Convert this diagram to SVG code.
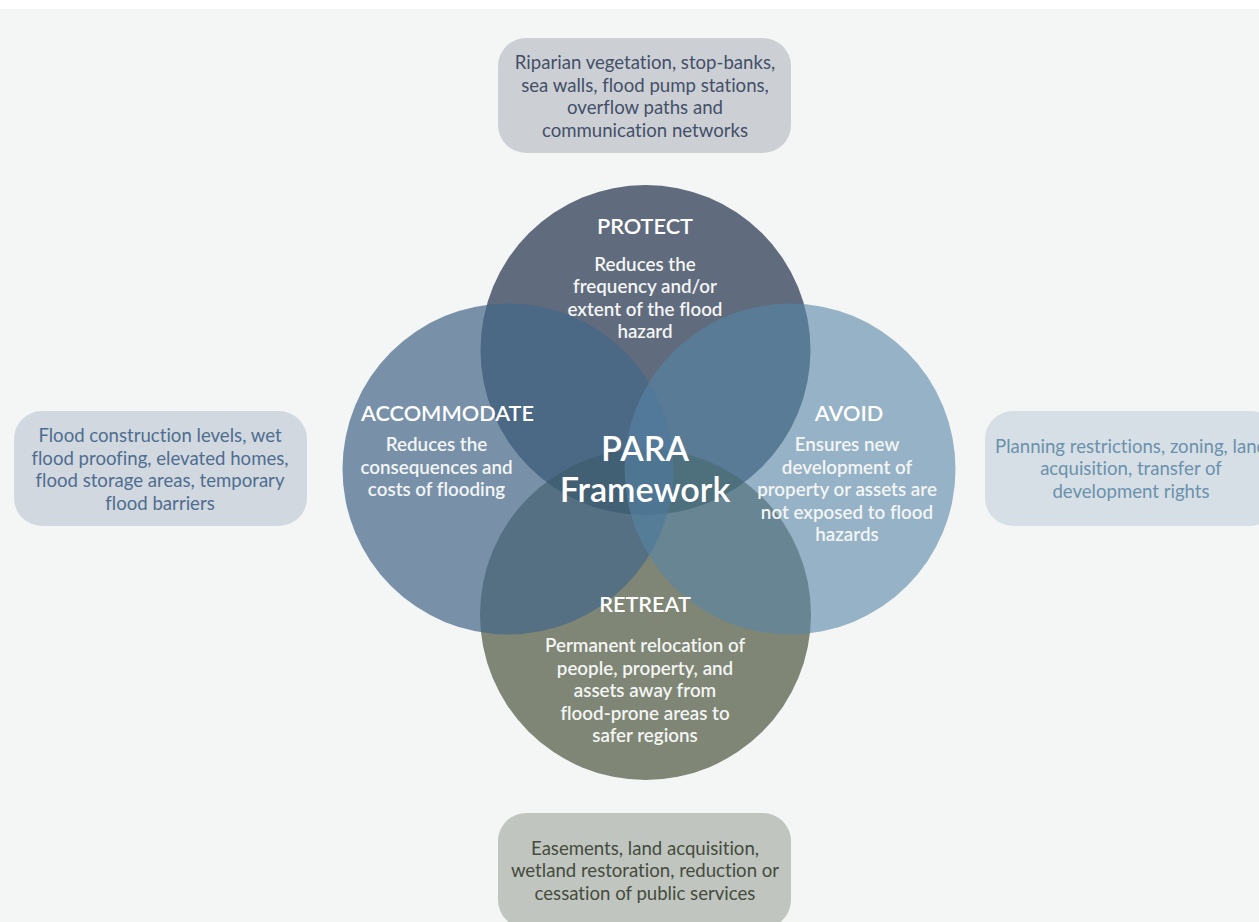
<svg xmlns="http://www.w3.org/2000/svg" width="1259" height="922" viewBox="0 0 1259 922">
<defs><clipPath id="in-protect"><circle cx="645.5" cy="350" r="165"/></clipPath></defs>
<style>
text{font-family:"Lato","Liberation Sans",sans-serif;text-anchor:middle;font-variant-ligatures:none;transform:translateY(.7px)}
.b{font-size:18.6px}
.p{fill:#444f68}.a{fill:#4f6d90}.v{fill:#6b91ad}.r{fill:#444c3e}
.t{font-size:21.7px;font-weight:600;fill:#fff}
.d{font-size:18.8px;font-weight:600;fill:#f3f5f4}
.c{font-size:34.2px;font-weight:600;fill:#fff}
</style>
<rect width="1259" height="922" fill="#fff"/>
<rect y="9" width="1259" height="913" fill="#f4f6f5"/>
<g id="box-protect"><rect x="498" y="38" width="293" height="115" rx="28" fill="#ccd0d5"/>
<text class="b p" x="645" y="68">Riparian vegetation, stop-banks,</text><text class="b p" x="645" y="91">sea walls, flood pump stations,</text><text class="b p" x="645" y="113">overflow paths and</text><text class="b p" x="645" y="136">communication networks</text></g>
<g id="box-accommodate"><rect x="14" y="411" width="293" height="115" rx="28" fill="#d1d8df"/>
<text class="b a" x="160" y="441">Flood construction levels, wet</text><text class="b a" x="160" y="464">flood proofing, elevated homes,</text><text class="b a" x="160" y="486">flood storage areas, temporary</text><text class="b a" x="160" y="509">flood barriers</text></g>
<g id="box-avoid"><rect x="985" y="411" width="293" height="115" rx="28" fill="#d6dfe5"/>
<text class="b v" x="1131" y="452">Planning restrictions, zoning, land</text><text class="b v" x="1131" y="474">acquisition, transfer of</text><text class="b v" x="1131" y="497">development rights</text></g>
<g id="box-retreat"><rect x="498" y="813" width="293" height="115" rx="28" fill="#c1c5bf"/>
<text class="b r" x="645" y="854">Easements, land acquisition,</text><text class="b r" x="645" y="876">wetland restoration, reduction or</text><text class="b r" x="645" y="899">cessation of public services</text></g>
<g id="circles">
<circle id="retreat" cx="645.5" cy="614.5" r="165.5" fill="#7f8675"/>
<circle id="protect" cx="645.5" cy="350" r="165" fill="#606b7d"/>
<circle id="protect-retreat-overlap" cx="645.5" cy="614.5" r="165.5" fill="#425240" clip-path="url(#in-protect)"/>
<circle id="accommodate" cx="508" cy="469" r="165.5" fill="#436789" fill-opacity=".7"/>
<circle id="avoid" cx="790" cy="469" r="165.5" fill="#5785a6" fill-opacity=".6"/>
</g>
<g id="protect-label"><text class="t" x="645" y="233">PROTECT</text><text class="d" x="645" y="270">Reduces the</text><text class="d" x="645" y="292">frequency and/or</text><text class="d" x="645" y="315">extent of the flood</text><text class="d" x="645" y="337">hazard</text></g>
<g id="accommodate-label"><text class="t" x="447.500" y="420">ACCOMMODATE</text><text class="d" x="436.500" y="450">Reduces the</text><text class="d" x="436.500" y="473">consequences and</text><text class="d" x="436.500" y="495">costs of flooding</text></g>
<g id="avoid-label"><text class="t" x="849" y="420">AVOID</text><text class="d" x="847" y="450">Ensures new</text><text class="d" x="847" y="473">development of</text><text class="d" x="847" y="495">property or assets are</text><text class="d" x="847" y="518">not exposed to flood</text><text class="d" x="847" y="540">hazards</text></g>
<g id="retreat-label"><text class="t" x="645" y="611">RETREAT</text><text class="d" x="645" y="651">Permanent relocation of</text><text class="d" x="645" y="674">people, property, and</text><text class="d" x="645" y="696">assets away from</text><text class="d" x="645" y="719">flood-prone areas to</text><text class="d" x="645" y="741">safer regions</text></g>
<g id="center-label"><text class="c" x="645" y="460">PARA</text><text class="c" x="645" y="501">Framework</text></g>
</svg>
